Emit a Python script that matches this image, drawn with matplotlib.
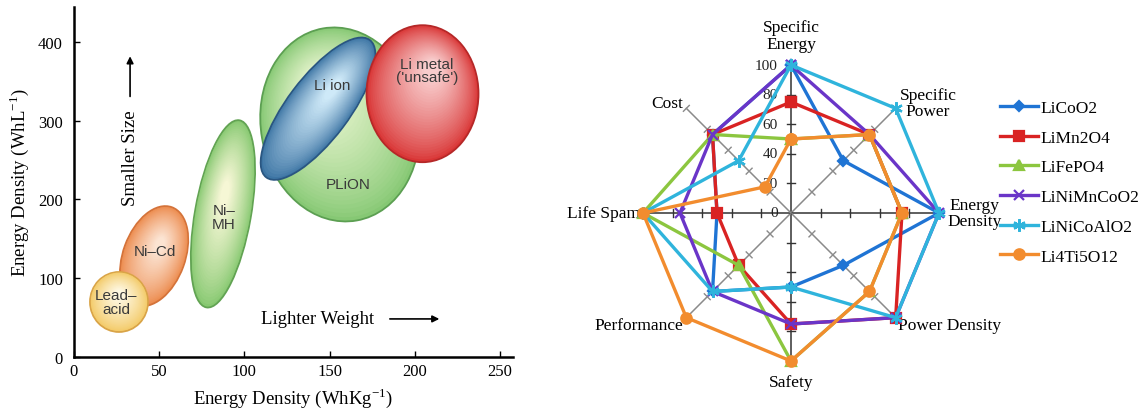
import numpy as np
import matplotlib
matplotlib.use('Agg')
import matplotlib.pyplot as plt
import matplotlib.transforms as mtransforms
from matplotlib.patches import Ellipse
from matplotlib.colors import to_rgb

plt.rcParams['font.family'] = ['Liberation Serif', 'DejaVu Serif']
plt.rcParams['mathtext.fontset'] = 'custom'
plt.rcParams['mathtext.rm'] = 'Liberation Serif'

# Left chart: battery chemistries, centre of each region (Wh/kg, Wh/L)
chem_names = ['Lead–\nacid', 'Ni–Cd', 'Ni–\nMH', 'PLiON', 'Li ion', "Li metal\n('unsafe')"]
chem_whkg = [26.4, 47.0, 87.4, 156.0, 143.2, 204.5]
chem_whl = [69.8, 128.0, 181.6, 295.0, 315.0, 334.0]
# label position of each region (Wh/kg, Wh/L)
label_whkg = [24.6, 47.5, 88.0, 160.8, 151.4, 207.2]
label_whl = [69.8, 134.6, 177.8, 219.7, 345.4, 363.2]

# Right chart: radar of cathode chemistries
radar_axes = ['Specific\nEnergy', 'Specific\nPower', 'Energy\nDensity', 'Power Density',
              'Safety', 'Performance', 'Life Spam', 'Cost']
series_names = ['LiCoO2', 'LiMn2O4', 'LiFePO4', 'LiNiMnCoO2', 'LiNiCoAlO2', 'Li4Ti5O12']
licoo2 = [100, 50, 100, 50, 50, 75, 50, 75]
limn2o4 = [75, 75, 75, 100, 75, 50, 50, 75]
lifepo4 = [50, 75, 75, 75, 100, 50, 100, 75]
linimncoo2 = [100, 75, 100, 100, 75, 75, 75, 75]
linicoalo2 = [100, 100, 100, 100, 50, 75, 100, 50]
li4ti5o12 = [50, 75, 75, 75, 100, 100, 100, 25]
radar_ticks = [0, 20, 40, 60, 80, 100]

fig = plt.figure(figsize=(11.45, 4.14), dpi=100)

# ---------------- left: Ragone-like chart ----------------
ax1 = fig.add_axes([74/1145, 56/414, 439/1145, 350/414])
ax1.set_xlim(0, 257.6)
ax1.set_ylim(0, 444)

# shape of each region in pixels: width, height, angle, highlight offset, colours, zorder
shapes = [
    (58, 60, 0, (0, 8), '#f3c965', '#fef9e4', '#d9a448', 4),
    (104, 62, 70, (6, 12), '#ec8a4c', '#fce6d6', '#d4733a', 3),
    (190, 56, 80, (2, 20), '#86c870', '#f9f8d8', '#62a353', 3),
    (195, 158, 100, (-20, 40), '#86c874', '#eef8d4', '#5c9f52', 2),
    (172, 62, 53, (15, 20), '#3d75a4', '#d2ecfa', '#2a5681', 3),
    (112, 137, 0, (10, 25), '#d93535', '#f9d0d0', '#b52828', 4),
]


def shaded_ellipse(ax, x, y, w, h, ang, off, outer, inner, edge, z):
    c_out = np.array(to_rgb(outer))
    c_in = np.array(to_rgb(inner))
    n = 30
    for k in range(n):
        f = k / n
        s = 1 - 0.88 * f
        trans = fig.dpi_scale_trans + mtransforms.ScaledTranslation(x, y, ax.transData)
        col = c_out + (c_in - c_out) * f ** 0.8
        e = Ellipse((off[0] * f / 100, off[1] * f / 100), w * s / 100, h * s / 100, angle=ang,
                    transform=trans, facecolor=col, edgecolor=edge if k == 0 else 'none',
                    lw=1.3, zorder=z)
        ax.add_patch(e)


for i in range(len(chem_names)):
    w, h, ang, off, outer, inner, edge, z = shapes[i]
    shaded_ellipse(ax1, chem_whkg[i], chem_whl[i], w, h, ang, off, outer, inner, edge, z)
    ax1.text(label_whkg[i], label_whl[i], chem_names[i], ha='center', va='center',
             family=['Liberation Sans', 'DejaVu Sans'], fontsize=11, color='#3a3a3a',
             linespacing=0.95, zorder=10)

ax1.text(32.9, 254, 'Smaller Size', rotation=90, ha='center', va='center', fontsize=13.5)
ax1.annotate('', xy=(32.9, 385), xytext=(32.9, 327),
             arrowprops=dict(arrowstyle='-|>', color='black', lw=1.2, mutation_scale=10))
ax1.text(142.9, 48.3, 'Lighter Weight', ha='center', va='center', fontsize=13.5)
ax1.annotate('', xy=(216, 48.3), xytext=(183.7, 48.3),
             arrowprops=dict(arrowstyle='-|>', color='black', lw=1.2, mutation_scale=10))

for sp in ['top', 'right']:
    ax1.spines[sp].set_visible(False)
for sp in ['left', 'bottom']:
    ax1.spines[sp].set_linewidth(1.8)
ax1.set_xticks([0, 50, 100, 150, 200, 250])
ax1.set_yticks([0, 100, 200, 300, 400])
ax1.tick_params(direction='in', length=4, width=1, labelsize=12)
ax1.tick_params(axis='y', pad=8)
ax1.tick_params(axis='x', pad=4)
ax1.set_xlabel('Energy Density (WhKg$^{\\mathregular{-1}}$)', fontsize=13.5, labelpad=5)
ax1.set_ylabel('Energy Density (WhL$^{\\mathregular{-1}}$)', fontsize=13.5, labelpad=5)

# ---------------- right: radar chart ----------------
ax2 = fig.add_axes([591/1145, 0, 400/1145, 400/414])
lim = 200 / 1.48
ax2.set_xlim(-lim, lim)
ax2.set_ylim(-lim, lim)
ax2.axis('off')

angles = np.deg2rad(90 - 45 * np.arange(len(radar_axes)))
for i, a in enumerate(angles):
    col = '#333333' if i % 2 == 0 else '#8a8a8a'
    ax2.plot([0, 100 * np.cos(a)], [0, 100 * np.sin(a)], color=col, lw=1.1, zorder=1)
    for t in radar_ticks[1:]:
        cx, cy = t * np.cos(a), t * np.sin(a)
        px, py = -np.sin(a) * 2.8, np.cos(a) * 2.8
        ax2.plot([cx - px, cx + px], [cy - py, cy + py], color=col, lw=1.0, zorder=1)

for t in radar_ticks:
    ax2.text(-9, t, str(t), ha='right', va='center', fontsize=11, color='#222222', zorder=1)

label_pos = [(0, 120, 'center'), (92.6, 74.3, 'center'), (124, 0, 'center'),
             (72.3, -75.7, 'left'), (0, -114, 'center'), (-73, -75.7, 'right'),
             (-102, 0, 'right'), (-73, 74.3, 'right')]
for name, (lx, ly, ha) in zip(radar_axes, label_pos):
    ax2.text(lx, ly, name, ha=ha, va='center', fontsize=12.5, linespacing=1.05)

series = [licoo2, limn2o4, lifepo4, linimncoo2, linicoalo2, li4ti5o12]
colors = ['#1f74d4', '#d92323', '#8cc63f', '#6a35c8', '#2fb4dc', '#f28c2e']
markers = ['D', 's', '^', 'x', (6, 2, 0), 'o']
msizes = [5, 7, 6.5, 7, 9, 7.5]
handles = []
for vals, col, mk, ms, name in zip(series, colors, markers, msizes, series_names):
    v = np.array(vals + vals[:1], dtype=float)
    a = np.append(angles, angles[0])
    ln, = ax2.plot(v * np.cos(a), v * np.sin(a), color=col, lw=2.4, marker=mk, ms=ms,
                   mew=1.6, label=name, zorder=3)
    handles.append(ln)

fig.legend(handles=handles, loc='upper left', bbox_to_anchor=(993/1145, 1 - 94/414),
           frameon=False, fontsize=12.5, handlelength=2.2, handletextpad=0.15,
           labelspacing=0.78, borderaxespad=0)

fig.savefig('out.png', dpi=100)
